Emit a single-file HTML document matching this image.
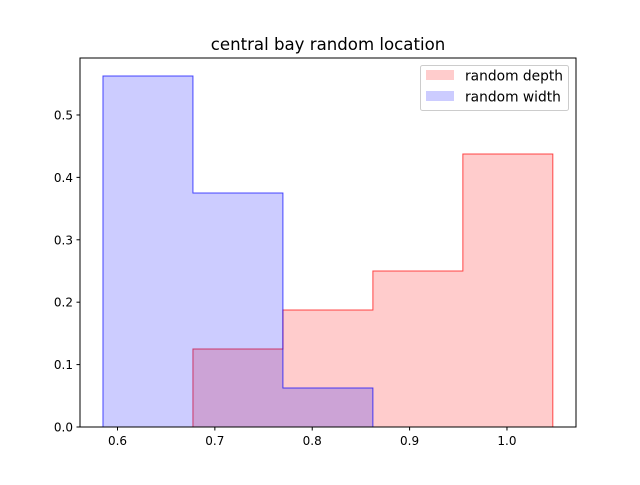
<!DOCTYPE html>
<html><head><meta charset="utf-8"><style>
body{margin:0;background:#fff}
svg text{font-family:"DejaVu Sans","Liberation Sans",sans-serif;fill:#000}
</style></head><body>
<svg id="chart" width="640" height="480" xmlns="http://www.w3.org/2000/svg">
<text x="328" y="50" font-size="16.6" text-anchor="middle">central bay random location</text>
<g id="plot"></g>
<rect x="80" y="58" width="496" height="369" fill="none" stroke="#000" stroke-width="1"/>
<g id="ticks"></g>
<g>
<rect x="420.5" y="65.5" width="148" height="45" rx="2" fill="#fff" fill-opacity="0.8" stroke="#ccc"/>
<rect x="426" y="70" width="28" height="10" fill="#ff0000" fill-opacity="0.2"/>
<text x="465" y="80.5" font-size="13.8">random depth</text>
<rect x="426" y="91" width="28" height="10" fill="#0000ff" fill-opacity="0.2"/>
<text x="465" y="101.5" font-size="13.8">random width</text>
</g>
</svg>
<script>
const binWidth = 0.0924;
const widthStart = 0.5851;
const widthValues = [0.5625, 0.375, 0.0625];
const depthStart = 0.6775;
const depthValues = [0.125, 0.1875, 0.25, 0.4375];
const xTicks = [0.6, 0.7, 0.8, 0.9, 1.0];
const xTickLabels = ["0.6", "0.7", "0.8", "0.9", "1.0"];
const yTicks = [0, 0.1, 0.2, 0.3, 0.4, 0.5];
const yTickLabels = ["0.0", "0.1", "0.2", "0.3", "0.4", "0.5"];

const X0 = 80, X1 = 576, Y0 = 427, Y1 = 58;
const xmin = 0.5615, xmax = 1.0709, ymin = 0, ymax = 0.5913;
const sx = v => X0 + (v - xmin) / (xmax - xmin) * (X1 - X0);
const sy = v => Y0 - (v - ymin) / (ymax - ymin) * (Y0 - Y1);
const NS = "http://www.w3.org/2000/svg";
const plot = document.getElementById('plot');
const ticks = document.getElementById('ticks');

function hist(start, vals, color, name) {
  let d = `M${sx(start)},${sy(0)}`;
  vals.forEach((v, i) => {
    const a = start + i * binWidth, b = start + (i + 1) * binWidth;
    d += ` L${sx(a)},${sy(v)} L${sx(b)},${sy(v)}`;
  });
  d += ` L${sx(start + vals.length * binWidth)},${sy(0)} Z`;
  const p = document.createElementNS(NS, 'path');
  
  
  p.setAttribute('d', d);
  p.setAttribute('fill', color);
  p.setAttribute('fill-opacity', '0.2');
  p.setAttribute('stroke', color);
  p.setAttribute('stroke-opacity', '0.7');
  p.setAttribute('stroke-width', '1');
  plot.appendChild(p);
}
hist(depthStart, depthValues, '#ff0000', 'depth-histogram');
hist(widthStart, widthValues, '#0000ff', 'width-histogram');

xTicks.forEach((t, i) => {
  const x = sx(t);
  const l = document.createElementNS(NS, 'line');
  
  
  l.setAttribute('x1', x); l.setAttribute('x2', x);
  l.setAttribute('y1', Y0); l.setAttribute('y2', Y0 + 3.5);
  l.setAttribute('stroke', '#000');
  ticks.appendChild(l);
  const tx = document.createElementNS(NS, 'text');
  
  
  tx.setAttribute('x', x); tx.setAttribute('y', Y0 + 18);
  tx.setAttribute('font-size', '12'); tx.setAttribute('text-anchor', 'middle');
  tx.textContent = xTickLabels[i];
  ticks.appendChild(tx);
});
yTicks.forEach((t, i) => {
  const y = sy(t);
  const l = document.createElementNS(NS, 'line');
  
  
  l.setAttribute('x1', X0 - 3.5); l.setAttribute('x2', X0);
  l.setAttribute('y1', y); l.setAttribute('y2', y);
  l.setAttribute('stroke', '#000');
  ticks.appendChild(l);
  const tx = document.createElementNS(NS, 'text');
  
  
  tx.setAttribute('x', X0 - 7); tx.setAttribute('y', y + 4.5);
  tx.setAttribute('font-size', '12'); tx.setAttribute('text-anchor', 'end');
  tx.textContent = yTickLabels[i];
  ticks.appendChild(tx);
});
</script>
</body></html>
